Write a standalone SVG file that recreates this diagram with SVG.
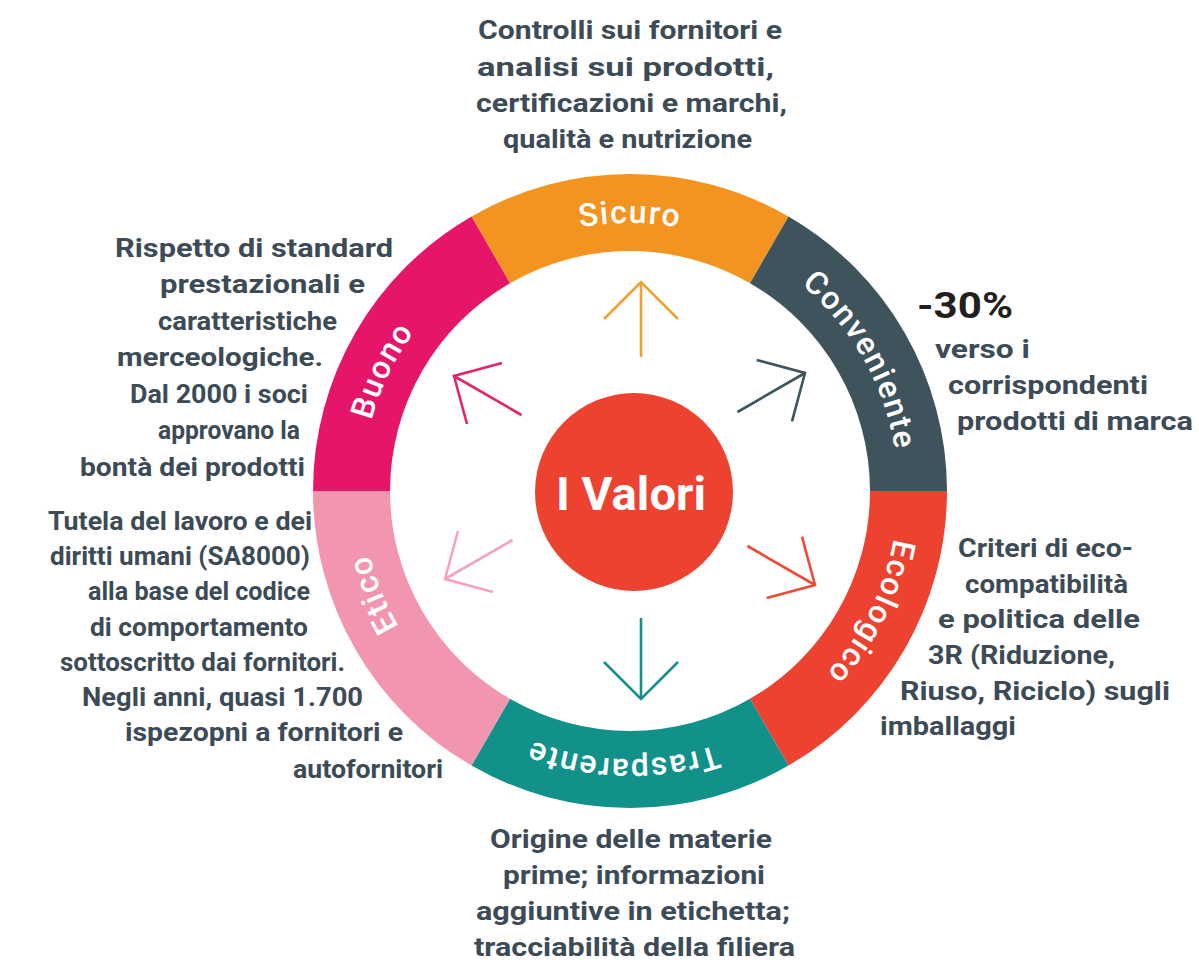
<svg xmlns="http://www.w3.org/2000/svg" xmlns:xlink="http://www.w3.org/1999/xlink" width="1199" height="970" viewBox="0 0 1199 970">
<style>
.desc{font-family:Roboto,"Liberation Sans",sans-serif;font-weight:700;font-size:26px;fill:#3C4B55}
.big{font-family:Roboto,"Liberation Sans",sans-serif;font-weight:700;font-size:36px;fill:#231F20}
.lbl{font-family:Roboto,"Liberation Sans",sans-serif;font-weight:500;font-size:32px;letter-spacing:1.5px;fill:#FFFFFF}
.arr{fill:none;stroke-width:2.6;stroke-linejoin:miter}
</style>
<defs>
<path id="lp" d="M 362,491 A 268 268 0 1 1 898,491 A 268 268 0 1 1 362,491"/>
</defs>
<rect width="1199" height="970" fill="#FFFFFF"/>

<g id="sicuro">
<path d="M 471.5,216.5 A 317 317 0 0 1 788.5,216.5 L 750,283.15 A 240 240 0 0 0 510,283.15 Z" fill="#F39421"/>
<text class="lbl" text-anchor="middle"><textPath xlink:href="#lp" href="#lp" startOffset="25%">Sicuro</textPath></text>
<text class="desc" x="478" y="39" textLength="304" lengthAdjust="spacingAndGlyphs">Controlli sui fornitori e</text>
<text class="desc" x="477" y="76" textLength="297" lengthAdjust="spacingAndGlyphs">analisi sui prodotti,</text>
<text class="desc" x="476" y="112" textLength="311" lengthAdjust="spacingAndGlyphs">certificazioni e marchi,</text>
<text class="desc" x="503" y="148" textLength="249" lengthAdjust="spacingAndGlyphs">qualità e nutrizione</text>
</g>

<g id="conveniente">
<path d="M 788.5,216.5 A 317 317 0 0 1 947,491 L 870,491 A 240 240 0 0 0 750,283.15 Z" fill="#3E535C"/>
<text class="lbl" text-anchor="middle"><textPath xlink:href="#lp" href="#lp" startOffset="41.8%">Conveniente</textPath></text>
<text class="big" x="917" y="318" textLength="96" lengthAdjust="spacingAndGlyphs">-30%</text>
<text class="desc" x="935" y="358" textLength="95" lengthAdjust="spacingAndGlyphs">verso i</text>
<text class="desc" x="948" y="394" textLength="200" lengthAdjust="spacingAndGlyphs">corrispondenti</text>
<text class="desc" x="957" y="430" textLength="236" lengthAdjust="spacingAndGlyphs">prodotti di marca</text>
</g>

<g id="ecologico">
<path d="M 947,491 A 317 317 0 0 1 788.5,765.5 L 750,698.85 A 240 240 0 0 0 870,491 Z" fill="#EE4231"/>
<text class="lbl" text-anchor="middle"><textPath xlink:href="#lp" href="#lp" startOffset="57.4%">Ecologico</textPath></text>
<text class="desc" x="958" y="557" textLength="175" lengthAdjust="spacingAndGlyphs">Criteri di eco-</text>
<text class="desc" x="965" y="593" textLength="163" lengthAdjust="spacingAndGlyphs">compatibilità</text>
<text class="desc" x="938" y="628" textLength="202" lengthAdjust="spacingAndGlyphs">e politica delle</text>
<text class="desc" x="928" y="664" textLength="187" lengthAdjust="spacingAndGlyphs">3R (Riduzione,</text>
<text class="desc" x="900" y="700" textLength="270" lengthAdjust="spacingAndGlyphs">Riuso, Riciclo) sugli</text>
<text class="desc" x="880" y="735" textLength="136" lengthAdjust="spacingAndGlyphs">imballaggi</text>
</g>

<g id="trasparente">
<path d="M 788.5,765.5 A 317 317 0 0 1 471.5,765.5 L 510,698.85 A 240 240 0 0 0 750,698.85 Z" fill="#12918A"/>
<text class="lbl" text-anchor="middle"><textPath xlink:href="#lp" href="#lp" startOffset="75.4%">Trasparente</textPath></text>
<text class="desc" x="490" y="848" textLength="282" lengthAdjust="spacingAndGlyphs">Origine delle materie</text>
<text class="desc" x="503" y="884" textLength="262" lengthAdjust="spacingAndGlyphs">prime; informazioni</text>
<text class="desc" x="476" y="920" textLength="314" lengthAdjust="spacingAndGlyphs">aggiuntive in etichetta;</text>
<text class="desc" x="474" y="956" textLength="321" lengthAdjust="spacingAndGlyphs">tracciabilità della filiera</text>
</g>

<g id="etico">
<path d="M 471.5,765.5 A 317 317 0 0 1 313,491 L 390,491 A 240 240 0 0 0 510,698.85 Z" fill="#F296B0"/>
<text class="lbl" text-anchor="middle"><textPath xlink:href="#lp" href="#lp" startOffset="93.9%">Etico</textPath></text>
<text class="desc" x="48" y="530" textLength="264" lengthAdjust="spacingAndGlyphs">Tutela del lavoro e dei</text>
<text class="desc" x="50" y="565" textLength="260" lengthAdjust="spacingAndGlyphs">diritti umani (SA8000)</text>
<text class="desc" x="88" y="600" textLength="222" lengthAdjust="spacingAndGlyphs">alla base del codice</text>
<text class="desc" x="90" y="636" textLength="218" lengthAdjust="spacingAndGlyphs">di comportamento</text>
<text class="desc" x="60" y="671" textLength="285" lengthAdjust="spacingAndGlyphs">sottoscritto dai fornitori.</text>
<text class="desc" x="82" y="706" textLength="281" lengthAdjust="spacingAndGlyphs">Negli anni, quasi 1.700</text>
<text class="desc" x="125" y="741" textLength="278" lengthAdjust="spacingAndGlyphs">ispezopni a fornitori e</text>
<text class="desc" x="293" y="778" textLength="150" lengthAdjust="spacingAndGlyphs">autofornitori</text>
</g>

<g id="buono">
<path d="M 313,491 A 317 317 0 0 1 471.5,216.5 L 510,283.15 A 240 240 0 0 0 390,491 Z" fill="#E5156A"/>
<text class="lbl" text-anchor="middle"><textPath xlink:href="#lp" href="#lp" startOffset="7.2%">Buono</textPath></text>
<text class="desc" x="115" y="257" textLength="278" lengthAdjust="spacingAndGlyphs">Rispetto di standard</text>
<text class="desc" x="160" y="293" textLength="205" lengthAdjust="spacingAndGlyphs">prestazionali e</text>
<text class="desc" x="158" y="330" textLength="179" lengthAdjust="spacingAndGlyphs">caratteristiche</text>
<text class="desc" x="117" y="366" textLength="206" lengthAdjust="spacingAndGlyphs">merceologiche.</text>
<text class="desc" x="130" y="403" textLength="178" lengthAdjust="spacingAndGlyphs">Dal 2000 i soci</text>
<text class="desc" x="158" y="439" textLength="142" lengthAdjust="spacingAndGlyphs">approvano la</text>
<text class="desc" x="80" y="476" textLength="225" lengthAdjust="spacingAndGlyphs">bontà dei prodotti</text>
</g>

<g id="center">
<circle cx="634" cy="492" r="99" fill="#EE4230"/>
<text x="631" y="510" text-anchor="middle" font-family="Roboto,'Liberation Sans',sans-serif" font-weight="700" font-size="46" fill="#FFFFFF" textLength="150" lengthAdjust="spacingAndGlyphs">I Valori</text>
</g>

<g id="connectors">
<g class="arr" stroke="#F0A030"><line x1="641" y1="357" x2="641" y2="282"/><polyline points="604,319 641,282 678,319"/></g>
<g class="arr" stroke="#3E535C"><line x1="737.5" y1="412" x2="805" y2="373"/><polyline points="756.7,360 805,373 792,421.3"/></g>
<g class="arr" stroke="#EE4A36"><line x1="747.5" y1="546" x2="815" y2="585"/><polyline points="802,536.7 815,585 766.7,598"/></g>
<g class="arr" stroke="#13908A"><line x1="641" y1="618" x2="641" y2="699"/><polyline points="604,662 641,699 678,662"/></g>
<g class="arr" stroke="#F4A3BE"><line x1="512.5" y1="540" x2="445" y2="579"/><polyline points="458,531 445,579 493,592"/></g>
<g class="arr" stroke="#E3256E"><line x1="521.5" y1="415" x2="454" y2="376"/><polyline points="502,363 454,376 467,424"/></g>
</g>
</svg>
